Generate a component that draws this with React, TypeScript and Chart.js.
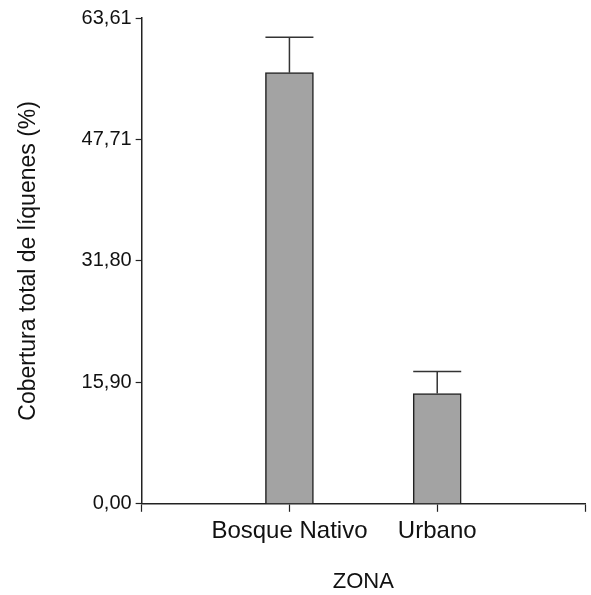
import React, { useEffect, useRef } from "react";
import { Chart, registerables } from "chart.js";

Chart.register(...registerables);

const categories = ["", "Bosque Nativo", "Urbano", ""];
const means = [null, 56.45, 14.44, null];
const errorTops = [null, 61.08, 17.32, null];
const yTickLabels = ["0,00", "15,90", "31,80", "47,71", "63,61"];
const yMax = 63.61;

const FONT = "'Liberation Sans', Arial, sans-serif";

const errorBarPlugin = {
  id: "errorBars",
  afterDatasetsDraw(chart: any) {
    const ctx = chart.ctx;
    const x = chart.scales.x;
    const y = chart.scales.y;
    ctx.save();
    ctx.strokeStyle = "#333";
    ctx.lineWidth = 1.5;
    errorTops.forEach((top, i) => {
      const m = means[i];
      if (top == null || m == null) return;
      const px = x.getPixelForValue(i);
      const py1 = y.getPixelForValue(m);
      const py2 = y.getPixelForValue(top);
      ctx.beginPath();
      ctx.moveTo(px, py1);
      ctx.lineTo(px, py2);
      ctx.moveTo(px - 24, py2);
      ctx.lineTo(px + 24, py2);
      ctx.stroke();
    });
    ctx.restore();
  },
};

export default function App() {
  const ref = useRef<HTMLCanvasElement>(null);
  useEffect(() => {
    if (!ref.current) return;
    const chart = new Chart(ref.current, {
      type: "bar",
      data: {
        labels: categories,
        datasets: [
          {
            data: means as any,
            backgroundColor: "#a3a3a3",
            borderColor: "#222",
            borderWidth: 1.5,
            barThickness: 48,
          },
        ],
      },
      options: {
        animation: false,
        responsive: false,
        maintainAspectRatio: false,
        layout: { padding: { top: 18, right: 6, left: 15, bottom: 0 } },
        plugins: { legend: { display: false }, tooltip: { enabled: false } },
        scales: {
          x: {
            offset: false,
            grid: { offset: false, drawOnChartArea: false, drawTicks: true, tickLength: 8, color: "#222", tickWidth: 1.2 },
            border: { display: true, color: "#222", width: 1.5 },
            ticks: {
              color: "#111",
              font: { family: FONT, size: 24 },
              padding: 5,
              maxRotation: 0,
              autoSkip: false,
            },
            title: {
              display: true,
              text: "ZONA",
              color: "#111",
              font: { family: FONT, size: 22 },
              padding: { top: 18, bottom: 0 },
            },
          },
          y: {
            min: 0,
            max: yMax,
            afterBuildTicks(axis: any) {
              axis.ticks = yTickLabels.map((_, i) => ({ value: (yMax * i) / (yTickLabels.length - 1) }));
            },
            grid: { drawOnChartArea: false, drawTicks: true, tickLength: 6, color: "#222", tickWidth: 1.2 },
            border: { display: true, color: "#222", width: 1.5 },
            ticks: {
              color: "#111",
              font: { family: FONT, size: 20 },
              padding: 4,
              callback: (_v: any, i: number) => yTickLabels[i],
            },
            title: {
              display: true,
              text: "Cobertura total de líquenes (%)",
              color: "#111",
              font: { family: FONT, size: 23 },
              padding: { top: 0, bottom: 35 },
            },
          },
        },
      },
      plugins: [errorBarPlugin],
    });
    return () => chart.destroy();
  }, []);
  return (
    <div style={{ position: "fixed", left: 0, top: 0, width: 591, height: 595, background: "#fff" }}>
      <canvas ref={ref} width={591} height={595} style={{ width: 591, height: 595 }} />
    </div>
  );
}
